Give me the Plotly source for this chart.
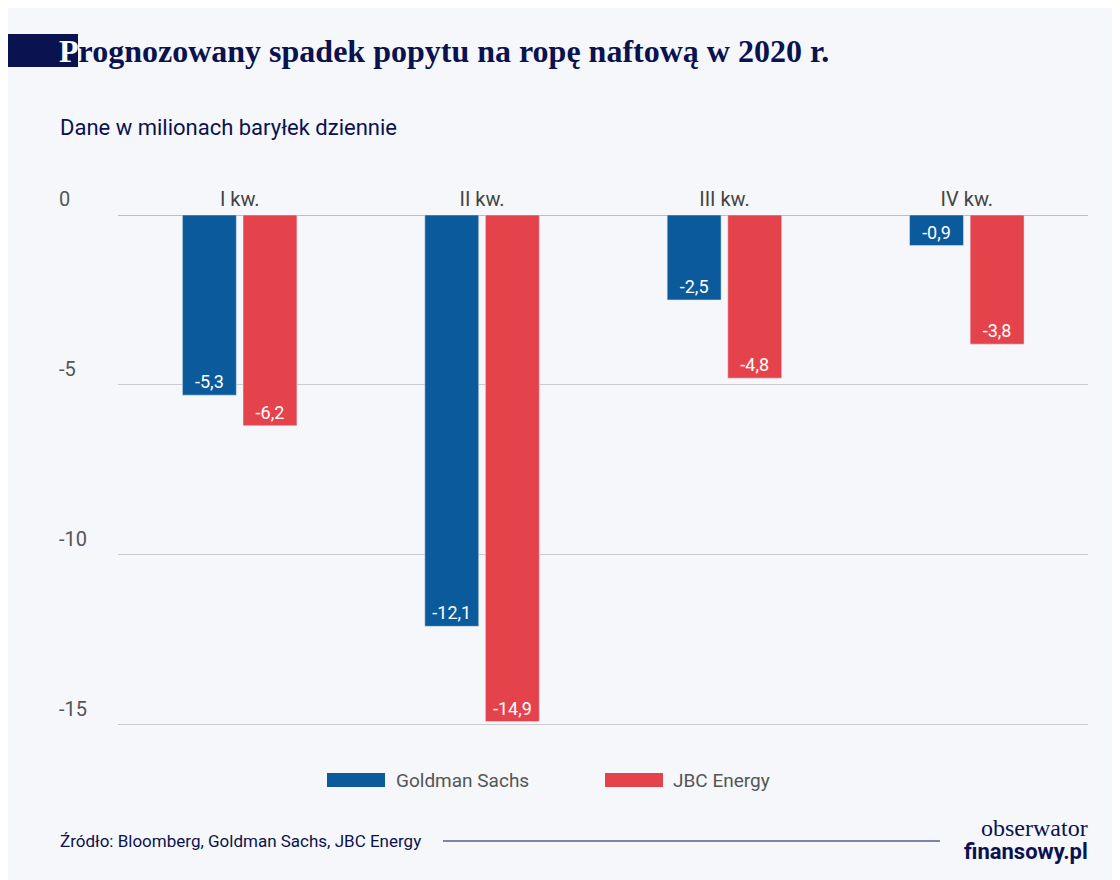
import plotly.graph_objects as go

quarters = ["I kw.", "II kw.", "III kw.", "IV kw."]
goldman = [-5.3, -12.1, -2.5, -0.9]
jbc = [-6.2, -14.9, -4.8, -3.8]
y_ticks = [0, -5, -10, -15]

BG = "#f5f7fa"
NAVY = "#0b1250"
BLUE = "#0a5a9c"
RED = "#e5434c"

# page has an 8px body margin, so the figure is drawn 8px in
OFF = 8
W, H = 1120 - OFF, 880 - OFF
L, R, T, B = 118 - OFF, 32, 215 - OFF, 158 - OFF


def px(x):
    return (x - OFF - L) / (W - L - R)


def py(y):
    return (H - B - (y - OFF)) / (H - T - B)


def lab(vals):
    return [f"{v:.1f}".replace(".", ",") for v in vals]


fig = go.Figure()
fig.add_bar(x=quarters, y=goldman, name="Goldman Sachs", marker_color=BLUE,
            text=lab(goldman), textposition="inside", insidetextanchor="end",
            textfont=dict(color="white", size=18), textangle=0)
fig.add_bar(x=quarters, y=jbc, name="JBC Energy", marker_color=RED,
            text=lab(jbc), textposition="inside", insidetextanchor="end",
            textfont=dict(color="white", size=18), textangle=0)

shapes = []
# category separators above the zero line
for i in range(len(quarters)):
    shapes.append(dict(type="line", xref="x", yref="y", x0=i - 0.5, x1=i - 0.5,
                       y0=0, y1=0.3, line=dict(color="#aaaaaa", width=1)))
shapes.append(dict(type="line", xref="paper", yref="y", x0=0, x1=1, y0=0, y1=0,
                   line=dict(color="#aaaaaa", width=1.5), layer="below"))
# navy block in the title
shapes.append(dict(type="rect", xref="paper", yref="paper", x0=px(-10), x1=px(78),
                   y0=py(67), y1=py(34), fillcolor=NAVY, line_width=0, layer="below"))
# legend swatches
shapes.append(dict(type="rect", xref="paper", yref="paper", x0=px(327), x1=px(385),
                   y0=py(787), y1=py(773), fillcolor=BLUE, line_width=0))
shapes.append(dict(type="rect", xref="paper", yref="paper", x0=px(605), x1=px(663),
                   y0=py(787), y1=py(773), fillcolor=RED, line_width=0))
# footer line
shapes.append(dict(type="line", xref="paper", yref="paper", x0=px(443), x1=px(940),
                   y0=py(841), y1=py(841), line=dict(color=NAVY, width=1)))

ann = []
for t in y_ticks:
    ann.append(dict(text=str(t), xref="paper", yref="y", x=px(57), y=t, xanchor="left",
                    yanchor="bottom", yshift=2, showarrow=False,
                    font=dict(size=20, color="#555555")))
ann += [
    dict(text="<b><span style='color:white'>P</span>rognozowany spadek popytu na ropę naftową w 2020 r.</b>",
         x=px(57), y=py(51), xanchor="left", yanchor="middle",
         font=dict(family="Liberation Serif", size=32, color=NAVY)),
    dict(text="Dane w milionach baryłek dziennie", x=px(58), y=py(127), xanchor="left",
         yanchor="middle", font=dict(size=22, color=NAVY)),
    dict(text="Goldman Sachs", x=px(394), y=py(780), xanchor="left", yanchor="middle",
         font=dict(size=19, color="#555555")),
    dict(text="JBC Energy", x=px(671), y=py(780), xanchor="left", yanchor="middle",
         font=dict(size=19, color="#555555")),
    dict(text="Źródło: Bloomberg, Goldman Sachs, JBC Energy", x=px(58), y=py(841), xanchor="left",
         yanchor="middle", font=dict(size=17, color=NAVY)),
    dict(text="obserwator", x=px(1090), y=py(828), xanchor="right", yanchor="middle",
         font=dict(family="Liberation Serif", size=24, color=NAVY)),
    dict(text="<b>finansowy.pl</b>", x=px(1090), y=py(851), xanchor="right", yanchor="middle",
         font=dict(family="Roboto", size=22, color=NAVY)),
]
for a in ann:
    a.setdefault("xref", "paper")
    a.setdefault("yref", "paper")
    a["showarrow"] = False

fig.update_layout(
    width=W, height=H,
    margin=dict(l=L, r=R, t=T, b=B),
    paper_bgcolor=BG, plot_bgcolor=BG,
    font=dict(family="Roboto", color="#444444"),
    barmode="group", bargap=0.5, bargroupgap=0.11,
    showlegend=False,
    shapes=shapes, annotations=ann,
    xaxis=dict(side="top", showgrid=False, showline=False, ticks="",
               tickfont=dict(size=20, color="#444444"), ticklabelstandoff=4),
    yaxis=dict(range=[-15.15, 0], tickvals=y_ticks[1:], showticklabels=False,
               gridcolor="#cccccc", gridwidth=1, zeroline=False),
)

fig.write_html("out.html")
